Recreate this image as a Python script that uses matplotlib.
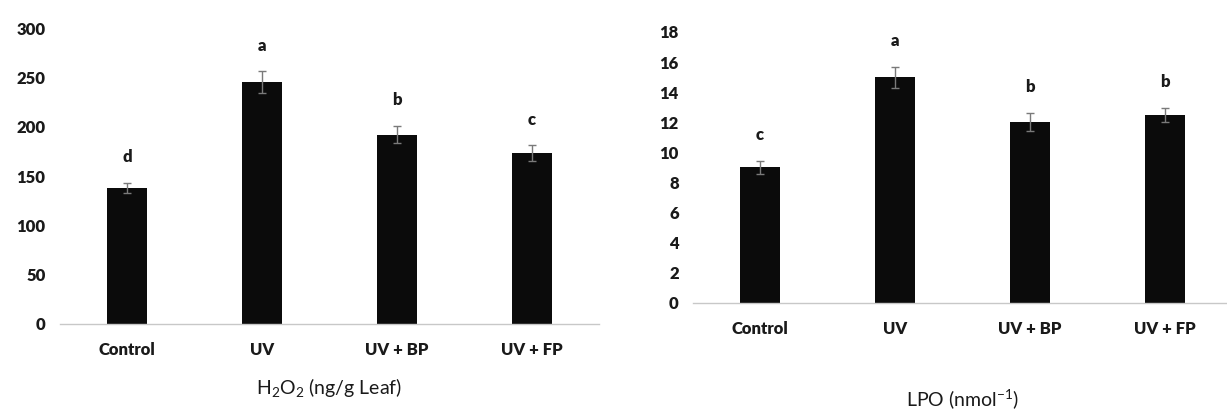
import matplotlib
matplotlib.use("Agg")
import matplotlib.pyplot as plt

# data
groups = ["Control", "UV", "UV + BP", "UV + FP"]

h2o2 = [138, 245, 192, 173]
h2o2_err = [5, 11, 9, 8]
h2o2_letters = ["d", "a", "b", "c"]

lpo = [9.0, 15.0, 12.0, 12.5]
lpo_err = [0.4, 0.7, 0.6, 0.45]
lpo_letters = ["c", "a", "b", "b"]

plt.rcParams["font.family"] = ["Lato", "DejaVu Sans"]
plt.rcParams["mathtext.fontset"] = "custom"
plt.rcParams["mathtext.rm"] = "Lato"
plt.rcParams["mathtext.it"] = "Lato:italic"
plt.rcParams["mathtext.bf"] = "Lato:bold"

fig = plt.figure(figsize=(12.27, 4.11), dpi=100)
ax1 = fig.add_axes([0.0485, 0.2117, 0.44, 0.72])
ax2 = fig.add_axes([0.5644, 0.2628, 0.44, 0.6594])


def draw_panel(ax, vals, errs, letters, ymax, step, letter_off, xlabel):
    x = range(len(groups))
    ax.bar(x, vals, width=0.3, color="#0b0b0b", zorder=2)
    ax.errorbar(x, vals, yerr=errs, fmt="none", ecolor="#7a7a7a",
                elinewidth=1, capsize=3, capthick=1, zorder=3)
    for xi, v, e, t in zip(x, vals, errs, letters):
        ax.text(xi, v + e + letter_off, t, ha="center", va="bottom",
                fontsize=12, fontweight="heavy", color="#1a1a1a")
    ax.set_xlim(-0.5, len(groups) - 0.5)
    ax.set_ylim(0, ymax)
    ax.set_yticks([i * step for i in range(int(ymax / step) + 1)])
    ax.set_xticks(list(x))
    ax.set_xticklabels(groups, fontsize=12, fontweight="heavy", color="#1a1a1a")
    for lab in ax.get_yticklabels():
        lab.set_fontsize(12)
        lab.set_fontweight("heavy")
        lab.set_color("#1a1a1a")
    ax.tick_params(length=0, pad=13)
    ax.tick_params(axis="y", pad=10)
    for s in ["top", "right", "left"]:
        ax.spines[s].set_visible(False)
    ax.spines["bottom"].set_color("#c8c8c8")
    ax.spines["bottom"].set_linewidth(1)
    ax.set_xlabel(xlabel, fontsize=14, color="#1a1a1a", labelpad=13)


draw_panel(ax1, h2o2, h2o2_err, h2o2_letters, 300, 50, 18,
           r"H$_2$O$_2$ (ng/g Leaf)")
draw_panel(ax2, lpo, lpo_err, lpo_letters, 18, 2, 1.2,
           r"LPO (nmol$^{-1}$)")
ax2.xaxis.labelpad = 36

fig.savefig("out.png", dpi=100)
